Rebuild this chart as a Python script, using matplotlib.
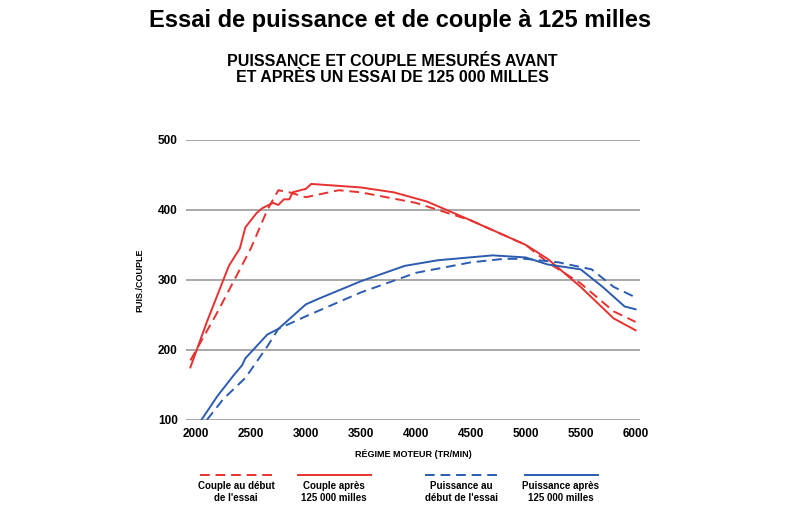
import matplotlib
matplotlib.use("Agg")
import matplotlib.pyplot as plt
from matplotlib.lines import Line2D

plt.rcParams['font.family'] = ['Liberation Sans', 'DejaVu Sans']

ca_x = [1950,2100,2300,2400,2450,2550,2600,2700,2750,2800,2850,2880,3000,3050,3500,3800,4100,4500,5000,5200,5500,5800,6000]
ca_y = [175,240,320,345,375,395,402,410,407,415,415,425,430,437,432,425,412,385,350,330,290,245,228]
cd_x = [1950,2200,2350,2500,2650,2750,2850,3000,3300,3500,4000,4500,5000,5200,5500,5800,6000]
cd_y = [185,255,300,345,400,428,425,418,428,425,410,385,350,325,295,255,240]
pa_x = [2050,2200,2350,2420,2450,2550,2650,2750,3000,3100,3500,3900,4200,4700,5000,5200,5500,5700,5900,6000]
pa_y = [100,135,165,178,188,205,222,230,265,272,298,320,328,335,332,322,315,290,262,258]
pd_x = [2100,2250,2450,2650,2750,3000,3500,4000,4500,4800,5000,5300,5600,5800,6000]
pd_y = [100,130,160,205,230,248,282,310,325,330,330,325,315,290,275]
xticks = [2000,2500,3000,3500,4000,4500,5000,5500,6000]
yticks = [100,200,300,400,500]
legend_labels = ["Couple au début\nde l'essai", "Couple après\n125 000 milles",
                 "Puissance au\ndébut de l'essai", "Puissance après\n125 000 milles"]

RED = '#e8312f'
BLUE = '#2b5cb0'

fig = plt.figure(figsize=(8, 5.14), dpi=100)
ax = fig.add_axes([0.2325, 0.183, 0.5675, 0.545])
ax.plot(cd_x, cd_y, color=RED, lw=1.4, ls=(0, (5, 3)))
ax.plot(ca_x, ca_y, color=RED, lw=1.4)
ax.plot(pd_x, pd_y, color=BLUE, lw=1.4, ls=(0, (5, 3)))
ax.plot(pa_x, pa_y, color=BLUE, lw=1.4)
ax.set_xlim(1910, 6040)
ax.set_ylim(100, 500)
ax.set_xticks(xticks)
ax.set_yticks(yticks)
ax.tick_params(length=0, labelsize=8.5, pad=6)
for l in ax.get_xticklabels() + ax.get_yticklabels():
    l.set_fontweight('bold')
ax.grid(axis='y', color='#999999', lw=1.2)
ax.set_axisbelow(True)
for s in ax.spines.values():
    s.set_visible(False)
ax.set_xlabel("RÉGIME MOTEUR (TR/MIN)", fontsize=6.5, fontweight='bold', labelpad=6)
ax.set_ylabel("PUIS./COUPLE", fontsize=6.5, fontweight='bold', labelpad=10)

fig.text(0.5, 0.96, "Essai de puissance et de couple à 125 milles", ha='center', va='center',
         fontsize=17, fontweight='bold')
fig.text(0.49, 0.865, "PUISSANCE ET COUPLE MESURÉS AVANT\nET APRÈS UN ESSAI DE 125 000 MILLES",
         ha='center', va='center', fontsize=11.5, fontweight='bold', linespacing=1.1)

styles = [(RED, (0, (5, 3))), (RED, '-'), (BLUE, (0, (5, 3))), (BLUE, '-')]
starts = [200, 298, 425, 525]
for (c, ls), x0, lab in zip(styles, starts, legend_labels):
    y = 1 - 475/514
    fig.add_artist(Line2D([x0/800, (x0+73)/800], [y, y], color=c, lw=1.4, ls=ls))
    fig.text((x0+36)/800, 1 - 492/514, lab, ha='center', va='center',
             fontsize=7, fontweight='bold', linespacing=1.2)

fig.savefig("out.png", dpi=100)
